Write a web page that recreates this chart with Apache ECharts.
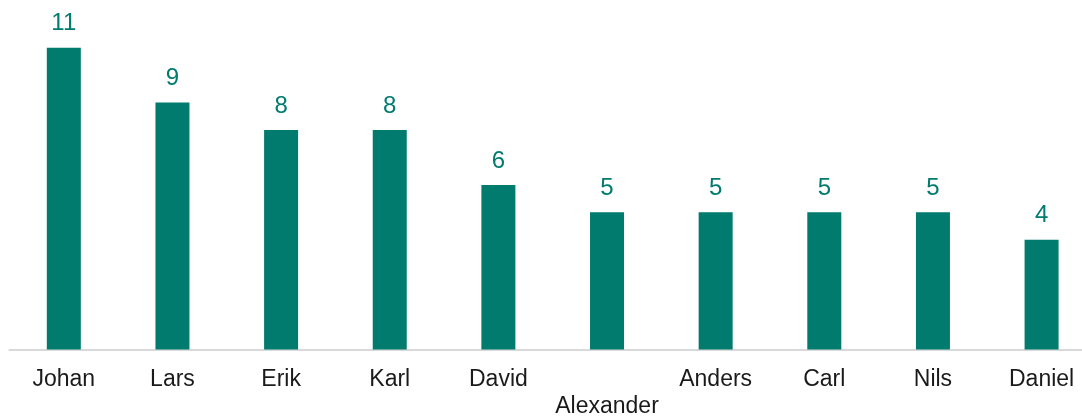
<!DOCTYPE html>
<html>
<head>
<meta charset="utf-8">
<script src="https://cdn.jsdelivr.net/npm/echarts@6/dist/echarts.min.js"></script>
<style>
html,body{margin:0;padding:0;background:#fff;}
#chart{width:1082px;height:416px;}
</style>
</head>
<body>
<div id="chart"></div>
<script>
const categories = ['Johan','Lars','Erik','Karl','David','Alexander','Anders','Carl','Nils','Daniel'];
const values = [11, 9, 8, 8, 6, 5, 5, 5, 5, 4];

const chart = echarts.init(document.getElementById('chart'), null, {renderer:'canvas'});
chart.setOption({
  animation: false,
  grid: {left: 9.5, top: 47.7, width: 1086.4, bottom: 66.5, containLabel: false, outerBoundsMode: 'none'},
  xAxis: {
    type: 'category',
    data: categories,
    axisLine: {show: true, lineStyle: {color: '#d9d9d9', width: 2}},
    axisTick: {show: false},
    axisLabel: {
      interval: 0,
      margin: 17,
      color: '#1a1a1a',
      fontFamily: 'Liberation Sans, Arial, sans-serif',
      fontSize: 23,
      lineHeight: 27,
      formatter: v => v.length > 8 ? '\n' + v : v
    }
  },
  yAxis: {
    type: 'value',
    min: 0,
    max: 11,
    show: false,
    splitLine: {show: false}
  },
  series: [{
    type: 'bar',
    data: values,
    barWidth: 34,
    itemStyle: {color: '#007B6E'},
    label: {
      show: true,
      position: 'top',
      distance: 12,
      color: '#007B6E',
      fontFamily: 'Liberation Sans, Arial, sans-serif',
      fontSize: 24
    }
  }]
});
</script>
</body>
</html>
